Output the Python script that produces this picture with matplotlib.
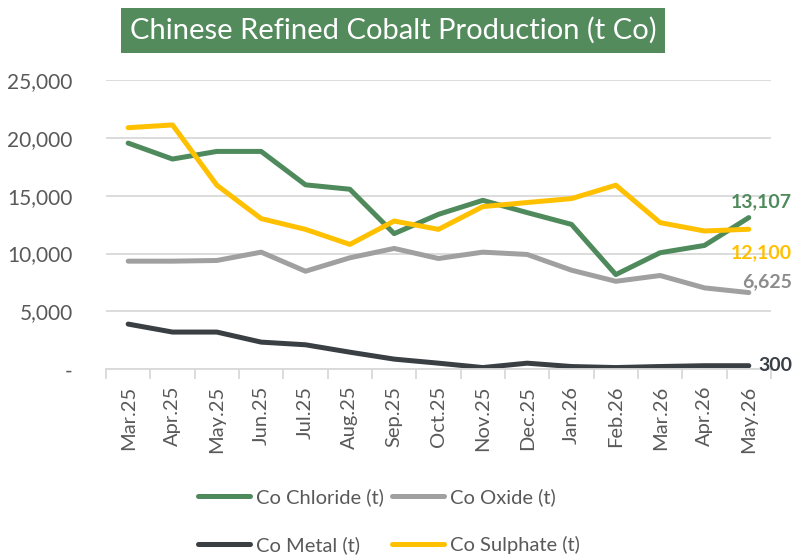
import matplotlib
matplotlib.use("Agg")
import matplotlib.pyplot as plt
from matplotlib.ticker import FixedLocator, FuncFormatter

plt.rcParams["font.family"] = ["Lato", "DejaVu Sans"]

months = ["Mar.25", "Apr.25", "May.25", "Jun.25", "Jul.25", "Aug.25", "Sep.25",
          "Oct.25", "Nov.25", "Dec.25", "Jan.26", "Feb.26", "Mar.26", "Apr.26", "May.26"]

chloride = [19550, 18170, 18830, 18830, 15940, 15560, 11720, 13390, 14600,
            13540, 12520, 8180, 10070, 10700, 13107]
oxide = [9340, 9340, 9400, 10120, 8470, 9630, 10440, 9570, 10120, 9920,
         8560, 7600, 8100, 7030, 6625]
metal = [3900, 3210, 3210, 2340, 2110, 1470, 870, 520, 140, 520, 230, 140,
         230, 300, 300]
sulphate = [20880, 21120, 15910, 13020, 12090, 10790, 12810, 12090, 14060,
            14410, 14750, 15910, 12670, 11950, 12100]

GREEN = "#4E8A5B"
GREY = "#A0A0A0"
DARK = "#3A3F44"
YELLOW = "#FFC000"
TEXT = "#595959"

fig = plt.figure(figsize=(7.94, 5.56), dpi=100)
ax = fig.add_axes([0.1335, 0.336, 0.8375, 0.52])

x = range(len(months))
lw = 3.6
l_chl, = ax.plot(x, chloride, color=GREEN, lw=lw, solid_capstyle="round", label="Co Chloride (t)")
l_oxi, = ax.plot(x, oxide, color=GREY, lw=lw, solid_capstyle="round", label="Co Oxide (t)")
l_met, = ax.plot(x, metal, color=DARK, lw=lw, solid_capstyle="round", label="Co Metal (t)")
l_sul, = ax.plot(x, sulphate, color=YELLOW, lw=lw, solid_capstyle="round", label="Co Sulphate (t)")

ax.set_xlim(-0.5, len(months) - 0.5)
ax.set_ylim(0, 25000)
ax.set_yticks(range(0, 25001, 5000))
ax.yaxis.set_major_formatter(FuncFormatter(lambda v, p: "-" if v == 0 else f"{int(v):,}"))
ax.grid(axis="y", color="#D9D9D9", lw=1.3)
ax.set_axisbelow(True)
for s in ("top", "right", "left"):
    ax.spines[s].set_visible(False)
ax.spines["bottom"].set_color("#D9D9D9")
ax.spines["bottom"].set_linewidth(1.3)

ax.xaxis.set_major_locator(FixedLocator([i - 0.5 for i in range(len(months) + 1)]))
ax.xaxis.set_minor_locator(FixedLocator(list(x)))
ax.set_xticklabels([], minor=False)
ax.set_xticklabels(months, minor=True, rotation=90)
ax.tick_params(axis="x", which="major", length=7, width=1.3, color="#D9D9D9")
ax.tick_params(axis="x", which="minor", length=0, pad=12, labelsize=14.5, labelcolor=TEXT)
ax.tick_params(axis="y", length=0, pad=24, labelsize=15, labelcolor=TEXT)

last = len(months) - 1
end_kw = dict(textcoords="offset points", fontsize=14, fontweight="bold", ha="right")
ax.annotate(f"{chloride[-1]:,}", (last, chloride[-1]), xytext=(31, 5), color=GREEN,
            va="bottom", **end_kw)
ax.annotate(f"{sulphate[-1]:,}", (last, sulphate[-1]), xytext=(31, -11), color=YELLOW,
            va="top", **end_kw)
ax.annotate(f"{oxide[-1]:,}", (last, oxide[-1]), xytext=(31, 2), color="#8C8C8C",
            va="bottom", **end_kw)
ax.annotate(f"{metal[-1]:,}", (last, metal[-1]), xytext=(31, 0), color=DARK,
            va="center", **end_kw)

fig.text(0.495, 0.945, "Chinese Refined Cobalt Production (t Co)", ha="center", va="center",
         fontsize=21, color="white",
         bbox=dict(boxstyle="square,pad=0.3", facecolor="#538B5D", edgecolor="none"))

fig.legend([l_chl, l_met, l_oxi, l_sul],
           ["Co Chloride (t)", "Co Metal (t)", "Co Oxide (t)", "Co Sulphate (t)"],
           ncol=2, loc="center", bbox_to_anchor=(0.49, 0.063), frameon=False,
           fontsize=14.5, labelcolor=TEXT, handlelength=2.6, handletextpad=0.3,
           columnspacing=0.4, labelspacing=1.5)

fig.savefig("out.png", dpi=100)
